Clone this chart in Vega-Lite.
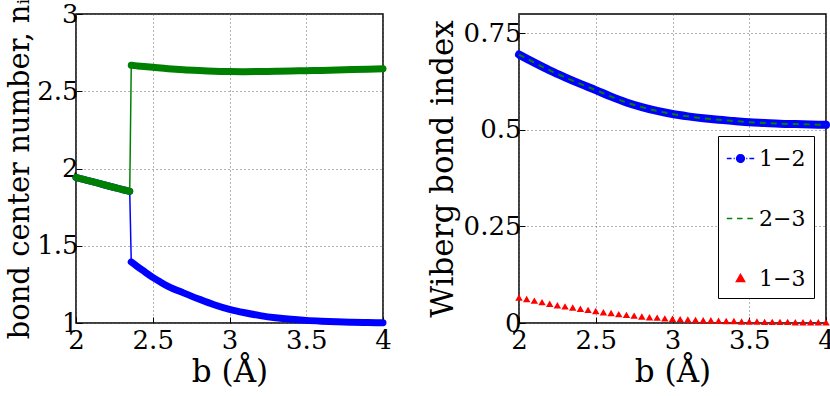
{
  "$schema": "https://vega.github.io/schema/vega-lite/v6.json",
  "padding": {"left": 4, "top": -3, "right": 0, "bottom": 0},
  "background": "white",
  "bounds": "flush",
  "spacing": 136,
  "resolve": {"scale": {"color": "independent"}, "legend": {"color": "independent"}},
  "datasets": {
    "left": [
      {"b": 2.00, "n": 1.942, "s": "green", "g": "A"},
      {"b": 2.05, "n": 1.929, "s": "green", "g": "A"},
      {"b": 2.10, "n": 1.916, "s": "green", "g": "A"},
      {"b": 2.15, "n": 1.903, "s": "green", "g": "A"},
      {"b": 2.20, "n": 1.890, "s": "green", "g": "A"},
      {"b": 2.25, "n": 1.877, "s": "green", "g": "A"},
      {"b": 2.30, "n": 1.864, "s": "green", "g": "A"},
      {"b": 2.35, "n": 1.852, "s": "green", "g": "A"},
      {"b": 2.36, "n": 2.668, "s": "green", "g": "B"},
      {"b": 2.40, "n": 2.664, "s": "green", "g": "B"},
      {"b": 2.50, "n": 2.655, "s": "green", "g": "B"},
      {"b": 2.60, "n": 2.646, "s": "green", "g": "B"},
      {"b": 2.70, "n": 2.639, "s": "green", "g": "B"},
      {"b": 2.80, "n": 2.634, "s": "green", "g": "B"},
      {"b": 2.90, "n": 2.630, "s": "green", "g": "B"},
      {"b": 3.00, "n": 2.628, "s": "green", "g": "B"},
      {"b": 3.10, "n": 2.627, "s": "green", "g": "B"},
      {"b": 3.20, "n": 2.628, "s": "green", "g": "B"},
      {"b": 3.30, "n": 2.629, "s": "green", "g": "B"},
      {"b": 3.40, "n": 2.631, "s": "green", "g": "B"},
      {"b": 3.50, "n": 2.633, "s": "green", "g": "B"},
      {"b": 3.60, "n": 2.635, "s": "green", "g": "B"},
      {"b": 3.70, "n": 2.638, "s": "green", "g": "B"},
      {"b": 3.80, "n": 2.640, "s": "green", "g": "B"},
      {"b": 3.90, "n": 2.643, "s": "green", "g": "B"},
      {"b": 4.00, "n": 2.646, "s": "green", "g": "B"},
      {"b": 2.00, "n": 1.942, "s": "blue", "g": "A"},
      {"b": 2.05, "n": 1.929, "s": "blue", "g": "A"},
      {"b": 2.10, "n": 1.916, "s": "blue", "g": "A"},
      {"b": 2.15, "n": 1.903, "s": "blue", "g": "A"},
      {"b": 2.20, "n": 1.890, "s": "blue", "g": "A"},
      {"b": 2.25, "n": 1.877, "s": "blue", "g": "A"},
      {"b": 2.30, "n": 1.864, "s": "blue", "g": "A"},
      {"b": 2.35, "n": 1.852, "s": "blue", "g": "A"},
      {"b": 2.36, "n": 1.395, "s": "blue", "g": "B"},
      {"b": 2.40, "n": 1.365, "s": "blue", "g": "B"},
      {"b": 2.45, "n": 1.330, "s": "blue", "g": "B"},
      {"b": 2.50, "n": 1.295, "s": "blue", "g": "B"},
      {"b": 2.55, "n": 1.265, "s": "blue", "g": "B"},
      {"b": 2.60, "n": 1.237, "s": "blue", "g": "B"},
      {"b": 2.70, "n": 1.195, "s": "blue", "g": "B"},
      {"b": 2.80, "n": 1.155, "s": "blue", "g": "B"},
      {"b": 2.90, "n": 1.118, "s": "blue", "g": "B"},
      {"b": 3.00, "n": 1.088, "s": "blue", "g": "B"},
      {"b": 3.10, "n": 1.066, "s": "blue", "g": "B"},
      {"b": 3.20, "n": 1.048, "s": "blue", "g": "B"},
      {"b": 3.30, "n": 1.034, "s": "blue", "g": "B"},
      {"b": 3.40, "n": 1.024, "s": "blue", "g": "B"},
      {"b": 3.50, "n": 1.017, "s": "blue", "g": "B"},
      {"b": 3.60, "n": 1.012, "s": "blue", "g": "B"},
      {"b": 3.70, "n": 1.008, "s": "blue", "g": "B"},
      {"b": 3.80, "n": 1.005, "s": "blue", "g": "B"},
      {"b": 3.90, "n": 1.003, "s": "blue", "g": "B"},
      {"b": 4.00, "n": 1.002, "s": "blue", "g": "B"}
    ],
    "r12": [
      {"b": 2.0, "w": 0.695}, {"b": 2.1, "w": 0.674}, {"b": 2.2, "w": 0.654},
      {"b": 2.3, "w": 0.636}, {"b": 2.4, "w": 0.619}, {"b": 2.5, "w": 0.603},
      {"b": 2.6, "w": 0.586}, {"b": 2.7, "w": 0.571}, {"b": 2.8, "w": 0.559},
      {"b": 2.9, "w": 0.549}, {"b": 3.0, "w": 0.541}, {"b": 3.1, "w": 0.535},
      {"b": 3.2, "w": 0.530}, {"b": 3.3, "w": 0.526}, {"b": 3.4, "w": 0.523},
      {"b": 3.5, "w": 0.520}, {"b": 3.6, "w": 0.518}, {"b": 3.7, "w": 0.516},
      {"b": 3.8, "w": 0.515}, {"b": 3.9, "w": 0.514}, {"b": 4.0, "w": 0.513}
    ],
    "r13": [
      {"b": 2.00, "w": 0.066}, {"b": 2.05, "w": 0.062}, {"b": 2.10, "w": 0.058},
      {"b": 2.15, "w": 0.054}, {"b": 2.20, "w": 0.050}, {"b": 2.25, "w": 0.046},
      {"b": 2.30, "w": 0.043}, {"b": 2.35, "w": 0.040}, {"b": 2.40, "w": 0.037},
      {"b": 2.45, "w": 0.034}, {"b": 2.50, "w": 0.031}, {"b": 2.55, "w": 0.028},
      {"b": 2.60, "w": 0.026}, {"b": 2.65, "w": 0.023}, {"b": 2.70, "w": 0.021},
      {"b": 2.75, "w": 0.019}, {"b": 2.80, "w": 0.017}, {"b": 2.85, "w": 0.015},
      {"b": 2.90, "w": 0.014}, {"b": 2.95, "w": 0.012}, {"b": 3.00, "w": 0.011},
      {"b": 3.05, "w": 0.010}, {"b": 3.10, "w": 0.009}, {"b": 3.15, "w": 0.008},
      {"b": 3.20, "w": 0.007}, {"b": 3.25, "w": 0.007}, {"b": 3.30, "w": 0.006},
      {"b": 3.35, "w": 0.005}, {"b": 3.40, "w": 0.005}, {"b": 3.45, "w": 0.004},
      {"b": 3.50, "w": 0.004}, {"b": 3.55, "w": 0.004}, {"b": 3.60, "w": 0.003},
      {"b": 3.65, "w": 0.003}, {"b": 3.70, "w": 0.003}, {"b": 3.75, "w": 0.003},
      {"b": 3.80, "w": 0.002}, {"b": 3.85, "w": 0.002}, {"b": 3.90, "w": 0.002},
      {"b": 3.95, "w": 0.002}, {"b": 4.00, "w": 0.002}
    ]
  },
  "hconcat": [
    {
      "width": 307,
      "height": 309,
      "data": {"name": "left"},
      "encoding": {
        "x": {"field": "b", "type": "quantitative", "scale": {"domain": [2, 4], "nice": false, "zero": false},
              "axis": {"values": [2, 2.5, 3, 3.5, 4], "format": ".3~g", "title": "b (Å)", "labelPadding": 10}},
        "y": {"field": "n", "type": "quantitative", "scale": {"domain": [1, 3], "nice": false, "zero": false},
              "axis": {"values": [1, 1.5, 2, 2.5, 3], "format": ".3~g", "title": "bond center number, nᵢ", "titlePadding": 2, "titleFontSize": 29}}
      },
      "layer": [
        {"transform": [{"filter": "datum.s === 'blue'"}],
         "mark": {"type": "line", "color": "#0000ff", "strokeWidth": 1.5}},
        {"transform": [{"filter": "datum.s === 'blue'"}],
         "mark": {"type": "line", "color": "#0000ff", "strokeWidth": 7, "strokeCap": "round", "interpolate": "monotone"},
         "encoding": {"detail": {"field": "g"}}},
        {"transform": [{"filter": "datum.s === 'green'"}],
         "mark": {"type": "line", "color": "#008000", "strokeWidth": 1.5}},
        {"transform": [{"filter": "datum.s === 'green'"}],
         "mark": {"type": "line", "color": "#008000", "strokeWidth": 7, "strokeCap": "round", "interpolate": "monotone"},
         "encoding": {"detail": {"field": "g"}}}
      ]
    },
    {
      "width": 307,
      "height": 309,
      "encoding": {
        "x": {"field": "b", "type": "quantitative", "scale": {"domain": [2, 4], "nice": false, "zero": false},
              "axis": {"values": [2, 2.5, 3, 3.5, 4], "format": ".3~g", "title": "b (Å)", "labelPadding": 10}},
        "y": {"field": "w", "type": "quantitative", "scale": {"domain": [0, 0.8], "nice": false},
              "axis": {"values": [0, 0.25, 0.5, 0.75], "format": ".3~g", "title": "Wiberg bond index"}}
      },
      "layer": [
        {"data": {"name": "r12"},
         "mark": {"type": "line", "strokeWidth": 8, "strokeCap": "round", "interpolate": "monotone"},
         "encoding": {
           "color": {"datum": "1−2", "type": "nominal",
             "scale": {"domain": ["1−2", "2−3", "1−3"], "range": ["#0000ff", "#008000", "#ff0000"]},
             "legend": {
               "title": null, "orient": "none", "legendX": 199, "legendY": 122,
               "direction": "vertical",
               "strokeColor": "black", "fillColor": "white", "padding": 8,
               "labelFont": "DejaVu Serif", "labelFontSize": 22, "labelColor": "black",
               "labelOffset": 4, "symbolSize": 750, "rowPadding": 34, "symbolStrokeWidth": 1.5,
               "encode": {
                 "symbols": {
                   "update": {
                     "shape": {"signal": "datum.value === '1−2' ? 'M-1,0H-0.65M-0.5,0H-0.42M0.42,0H0.5M0.65,0H1M0.28,0A0.28,0.28,0,1,1,-0.28,0A0.28,0.28,0,1,1,0.28,0' : datum.value === '2−3' ? 'M-1,0H-0.6M-0.25,0H0.15M0.5,0H0.9' : 'M0,-0.3L0.3,0.22L-0.3,0.22Z'"},
                     "fill": {"signal": "datum.value === '1−3' ? '#ff0000' : 'white'"},
                     "stroke": {"signal": "datum.value === '1−2' ? '#0000ff' : datum.value === '2−3' ? '#008000' : '#ff0000'"},
                     "strokeWidth": {"value": 1.5},
                     "strokeDash": {"value": [1, 0]},
                     "opacity": {"value": 1}
                   }
                 }
               }
             }}
         }},
        {"data": {"name": "r12"},
         "mark": {"type": "line", "strokeWidth": 2, "strokeDash": [6, 5], "interpolate": "monotone"},
         "encoding": {"color": {"datum": "2−3", "type": "nominal"}}},
        {"data": {"name": "r13"},
         "mark": {"type": "point", "shape": "triangle-up", "filled": true, "size": 55, "opacity": 1},
         "encoding": {"color": {"datum": "1−3", "type": "nominal"}}}
      ]
    }
  ],
  "config": {
    "font": "DejaVu Serif",
    "view": {"stroke": "black", "strokeWidth": 1.5},
    "axis": {
      "labelFont": "DejaVu Serif", "labelFontSize": 26, "labelColor": "black",
      "titleFont": "DejaVu Serif", "titleFontSize": 31, "titleFontWeight": "normal", "titleColor": "black",
      "domain": false, "grid": true, "gridColor": "#666", "gridDash": [1, 3], "gridWidth": 1, "gridOpacity": 1,
      "tickColor": "black", "tickSize": -6, "labelFlush": false, "labelOverlap": false, "labelPadding": 4
    }
  }
}
